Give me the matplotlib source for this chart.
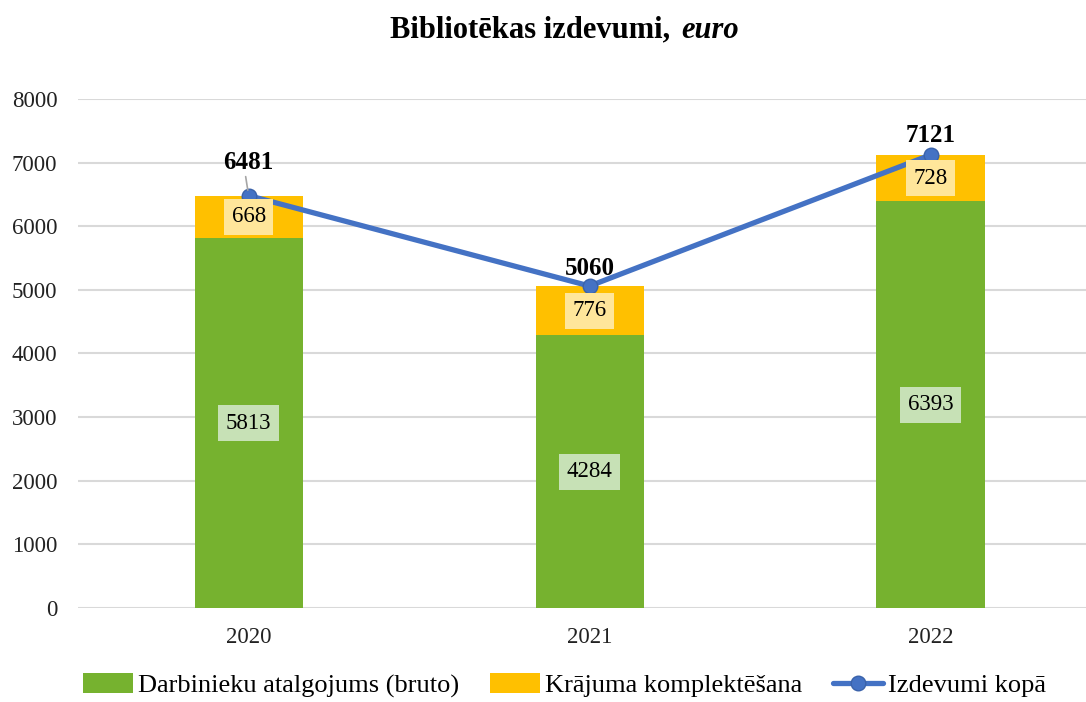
import matplotlib.pyplot as plt
import numpy as np

plt.rcParams['font.family'] = ['Liberation Serif', 'DejaVu Serif']

gadi = ['2020', '2021', '2022']
atalgojums = [5813, 4284, 6393]
komplektesana = [668, 776, 728]
kopa = [6481, 5060, 7121]

zals = '#76B22F'
dzeltens = '#FFC000'
zils = '#4472C4'

fig = plt.figure(figsize=(10.86, 7.02), dpi=100)
ax = fig.add_axes([0.072, 0.134, 0.928, 0.725])

x = np.arange(len(gadi))
w = 0.317
b1 = ax.bar(x, atalgojums, w, color=zals, label='Darbinieku atalgojums (bruto)', zorder=2)
b2 = ax.bar(x, komplektesana, w, bottom=atalgojums, color=dzeltens,
            label='Krājuma komplektēšana', zorder=2)
l1, = ax.plot(x, kopa, color=zils, lw=3.8, marker='o', ms=10.5, mfc=zils, mec='#3A62AA',
              label='Izdevumi kopā', zorder=3, solid_capstyle='round')

for i in range(len(gadi)):
    ax.text(x[i], atalgojums[i] / 2, str(atalgojums[i]), ha='center', va='center',
            fontsize=16.5, zorder=4,
            bbox=dict(boxstyle='square,pad=0.33', fc='#C7E1B6', ec='none'))
    ax.text(x[i], atalgojums[i] + komplektesana[i] / 2, str(komplektesana[i]),
            ha='center', va='center', fontsize=16.5, zorder=4,
            bbox=dict(boxstyle='square,pad=0.33', fc='#FFE69A', ec='none'))

# kopsummas virs līnijas
nobide = [33, 18, 19]
for i in range(len(gadi)):
    ax.annotate(str(kopa[i]), (x[i], kopa[i]), xytext=(0, nobide[i]),
                textcoords='offset pixels', ha='center', va='center',
                fontsize=18, fontweight='bold', zorder=5)
ax.annotate('', (x[0], kopa[0]), xytext=(-3, 19), textcoords='offset pixels',
            arrowprops=dict(arrowstyle='-', color='#A6A6A6', lw=1.2,
                            shrinkA=0, shrinkB=4), zorder=5)

ax.set_xlim(-0.5, 2.456)
ax.set_ylim(0, 8000)
ax.set_yticks(range(0, 8001, 1000))
ax.set_xticks(x)
ax.set_xticklabels(gadi)
ax.tick_params(axis='both', length=0, labelsize=16.5, colors='#222222')
ax.tick_params(axis='y', pad=15)
ax.tick_params(axis='x', pad=14)
ax.grid(axis='y', color='#D9D9D9', lw=1.5, zorder=0)
for s in ax.spines.values():
    s.set_visible(False)

fig.text(0.624, 0.957, 'Bibliotēkas izdevumi, ', ha='right', va='center',
         fontsize=22, fontweight='bold')
fig.text(0.627, 0.957, 'euro', ha='left', va='center',
         fontsize=22, fontweight='bold', fontstyle='italic')

fig.legend([b1, b2, l1], [b1.get_label(), b2.get_label(), l1.get_label()],
           loc='lower center', bbox_to_anchor=(0.52, -0.028), ncol=3, frameon=False,
           fontsize=19, handlelength=1.9, handleheight=0.8, columnspacing=1.15,
           handletextpad=0.2)

fig.savefig('out.png', dpi=100)
